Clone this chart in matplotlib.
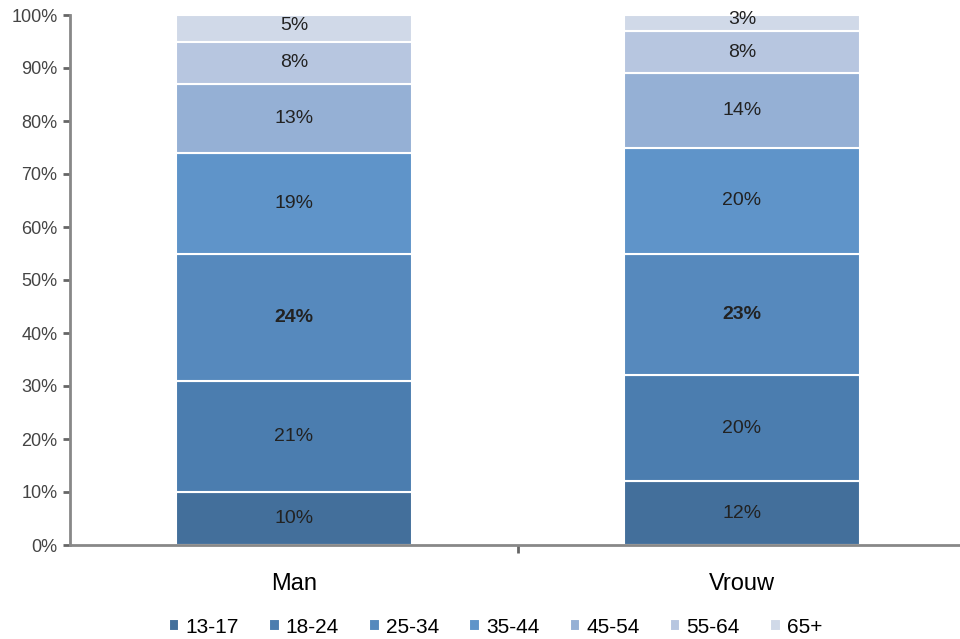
import matplotlib.pyplot as plt
from matplotlib.ticker import PercentFormatter

groups = ['Man', 'Vrouw']
ages = ['13-17', '18-24', '25-34', '35-44', '45-54', '55-64', '65+']
man = [10, 21, 24, 19, 13, 8, 5]
vrouw = [12, 20, 23, 20, 14, 8, 3]
colors = ['#436f9b', '#4b7daf', '#5689bd', '#5f94c9', '#95b0d5', '#b7c6e0', '#d0d9e8']

plt.rcParams['font.family'] = ['Liberation Sans', 'DejaVu Sans']

fig = plt.figure(figsize=(9.6, 6.39), dpi=100)
ax = fig.add_axes([70 / 960, 94 / 639, 896 / 960, 530 / 639])

bottom = [0, 0]
for i, age in enumerate(ages):
    vals = [man[i], vrouw[i]]
    ax.bar([0, 1], vals, 0.525, bottom=bottom, color=colors[i],
           edgecolor='white', linewidth=1.5, label=age, zorder=2)
    for x in range(2):
        y = bottom[x] + vals[x] / 2
        if i == len(ages) - 1:
            y = bottom[x] + vals[x] / 2 + 0.6
        ax.text(x, y, f'{vals[x]}%', ha='center', va='center',
                fontsize=14, color='#222222',
                fontweight='bold' if i == 2 else 'normal')
    bottom = [bottom[0] + vals[0], bottom[1] + vals[1]]

ax.set_xlim(-0.5, 1.5)
ax.set_ylim(0, 100)
ax.set_yticks(range(0, 101, 10))
ax.yaxis.set_major_formatter(PercentFormatter(decimals=0))
ax.set_xticks([0.5])
ax.set_xticklabels([''])
ax.set_xticks([0, 1], minor=True)
ax.set_xticklabels(groups, minor=True, fontsize=17)
ax.tick_params(axis='x', which='minor', length=0, pad=20)
ax.tick_params(axis='x', which='major', length=6, width=2, color='#666666')
ax.tick_params(axis='y', length=5, width=2, color='#666666', labelsize=13, labelcolor='#444444', pad=4)

for s in ['top', 'right']:
    ax.spines[s].set_visible(False)
for s in ['left', 'bottom']:
    ax.spines[s].set_color('#888888')
    ax.spines[s].set_linewidth(2)

ax.legend(loc='center', bbox_to_anchor=(0.475, -0.155), ncol=7, frameon=False,
          fontsize=15, handlelength=0.5, handleheight=0.5, handletextpad=0.3,
          columnspacing=1.45)

fig.savefig('out.png', dpi=100)
